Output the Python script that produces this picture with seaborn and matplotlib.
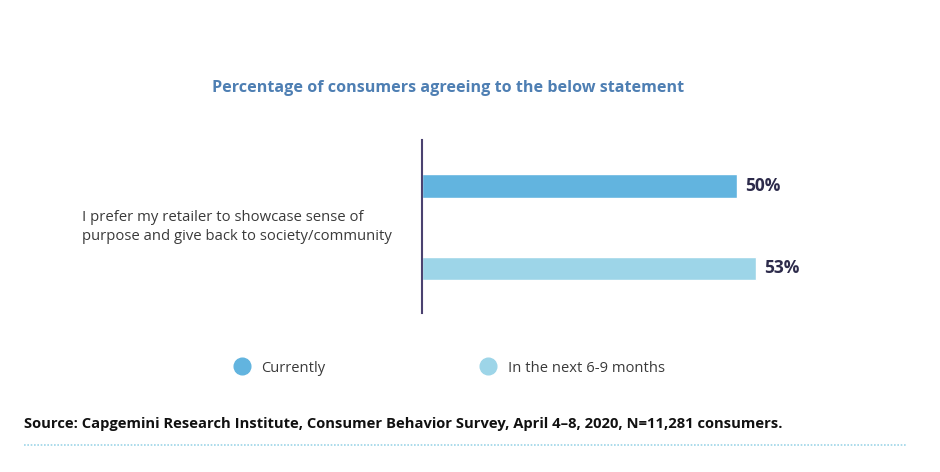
import pandas as pd
import seaborn as sns
import matplotlib.pyplot as plt
from matplotlib.lines import Line2D

# data
statement = ["I prefer my retailer to showcase sense of\npurpose and give back to society/community"]
periods = ["Currently", "In the next 6-9 months"]
shares = [50, 53]
colors = ["#62B4DF", "#9DD5E8"]

df = pd.DataFrame({"period": periods, "share": shares})

sns.set_style("white")
plt.rcParams["font.family"] = ["Open Sans", "DejaVu Sans"]

fig = plt.figure(figsize=(9.4, 4.72), dpi=100)
ax = fig.add_axes([422 / 940, 1 - 313 / 472, 478 / 940, 173 / 472])

sns.barplot(data=df, x="share", y="period", hue="period", palette=colors,
            width=0.29, saturation=1, legend=False, ax=ax)

ax.set_xlim(0, 478 / 6.3)
ax.set_ylim(1.54, -0.558)
sns.despine(ax=ax, top=True, right=True, bottom=True, left=False)
ax.spines["left"].set_color("#4B4270")
ax.spines["left"].set_linewidth(1.5)
ax.set_xticks([])
ax.set_yticks([])
ax.set_xlabel("")
ax.set_ylabel("")

for i, v in enumerate(shares):
    ax.text(v + 1.3, i, f"{v}%", va="center", ha="left", fontsize=12.5,
            fontweight="bold", color="#2D2B4B")

fig.text(448 / 940, 1 - 88 / 472, "Percentage of consumers agreeing to the below statement",
         ha="center", va="center", fontsize=11.6, fontweight="bold", color="#4E7FB3")

fig.text(82 / 940, 1 - 227 / 472, statement[0], ha="left", va="center",
         fontsize=10.7, color="#3A3A3A", linespacing=1.45)

handles = [Line2D([0], [0], marker="o", linestyle="", markersize=12,
                  markerfacecolor=c, markeredgecolor=c) for c in colors]
fig.legend(handles, periods, loc="center left", ncol=2,
           bbox_to_anchor=(227 / 940, 1 - 368 / 472), frameon=False,
           fontsize=10.6, handletextpad=0.3, columnspacing=10.1,
           borderaxespad=0, borderpad=0, labelcolor="#3A3A3A")

fig.text(24 / 940, 1 - 424 / 472,
         "Source: Capgemini Research Institute, Consumer Behavior Survey, April 4\u20138, 2020, N=11,281 consumers.",
         ha="left", va="center", fontsize=10.6, fontweight="bold", color="#111111")

fig.add_artist(Line2D([24 / 940, 907 / 940], [1 - 445 / 472, 1 - 445 / 472],
                      transform=fig.transFigure, color="#9DD5E8",
                      linestyle=(0, (1, 1)), linewidth=1.2))

fig.savefig("out.png", dpi=100, facecolor="white")
